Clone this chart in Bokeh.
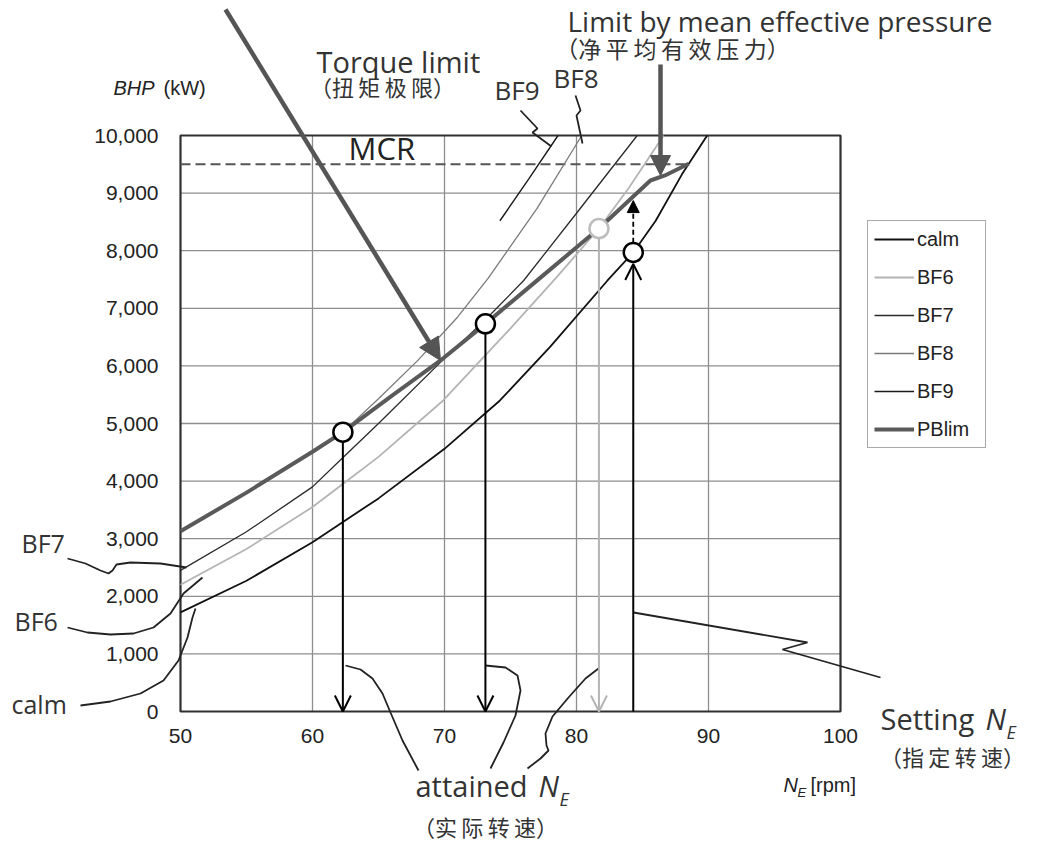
import numpy as np
from bokeh.plotting import figure
from bokeh.models import (Range1d, FixedTicker, NumeralTickFormatter, Arrow, OpenHead,
                          NormalHead, Label, Legend, LegendItem)
from bokeh.embed import file_html
from bokeh.resources import INLINE

# ---------------- data ----------------
x_ticks = [50, 60, 70, 80, 90, 100]
y_ticks = [0, 1000, 2000, 3000, 4000, 5000, 6000, 7000, 8000, 9000, 10000]

calm_ne = [50, 55, 60, 65, 70, 74.2, 78, 82.35, 84.3, 86, 88, 89.9]
calm_bhp = [1720, 2270, 2940, 3700, 4560, 5400, 6330, 7483, 7970, 8520, 9330, 10000]

bf6_ne = [50, 55, 60, 62.3, 65, 69.9, 75, 78.5, 81.7, 84, 86.6]
bf6_bhp = [2200, 2820, 3550, 3950, 4420, 5400, 6650, 7540, 8385, 9100, 10000]

bf7_ne = [50, 55, 60, 62.35, 65, 70, 73.1, 76, 80, 84.6]
bf7_bhp = [2450, 3120, 3900, 4420, 5000, 6130, 6800, 7483, 8650, 10000]

bf8_ne = [62.3, 65, 68, 71, 73.3, 77, 80.4]
bf8_bhp = [4850, 5430, 6100, 6850, 7520, 8730, 10000]

bf9_ne = [74.2, 76.4, 78.6]
bf9_bhp = [8520, 9250, 10000]

pblim_ne = [50, 55, 60, 62.3, 66, 69.7, 73.1, 77, 81.7, 85.6, 86.7, 88.5]
pblim_bhp = [3130, 3800, 4510, 4850, 5480, 6094, 6730, 7480, 8385, 9219, 9306, 9510]

mcr_bhp = 9500
mcr_end_ne = 88.3

attained_ne = [62.3, 73.1, 81.7]
attained_bhp = [4850, 6730, 8385]
attained_color = ["black", "black", "#b4b4b4"]
setting_ne = 84.3
setting_bhp = 7970
setting_target_bhp = 8870

# ---------------- layout mapping ----------------
W, H = 1036, 841
PX_PER_X = 13.2
PX_PER_Y = 0.0576
OX, OY = 180, 711          # canvas position of (50, 0)
X0 = x_ticks[0] - OX / PX_PER_X
X1 = x_ticks[0] + (W - OX) / PX_PER_X
Y1 = OY / PX_PER_Y
Y0 = (OY - H) / PX_PER_Y


def P(px, py):
    """canvas pixel -> data coords (for annotation placement)"""
    return X0 + px * (X1 - X0) / W, Y1 - py * (Y1 - Y0) / H


def PL(pts):
    xs, ys = zip(*[P(a, b) for a, b in pts])
    return list(xs), list(ys)


p = figure(width=W, height=H, output_backend="svg", toolbar_location=None,
           x_range=Range1d(X0, X1), y_range=Range1d(Y0, Y1), min_border=0)
p.outline_line_color = None
p.grid.visible = False
p.background_fill_color = "white"
p.border_fill_color = "white"

for ax in (p.xaxis[0], p.yaxis[0]):
    ax.axis_line_color = None
    ax.major_tick_line_color = None
    ax.minor_tick_line_color = None
    ax.major_tick_in = 0
    ax.major_tick_out = 0
    ax.major_label_text_font = "Liberation Sans"
    ax.major_label_text_font_size = "21px"
    ax.major_label_text_color = "#222222"

p.xaxis.ticker = FixedTicker(ticks=x_ticks)
p.xaxis.fixed_location = y_ticks[0]
p.xaxis.bounds = (x_ticks[0], x_ticks[-1])
p.xaxis.major_label_standoff = 17
p.yaxis.ticker = FixedTicker(ticks=y_ticks)
p.yaxis.fixed_location = x_ticks[0]
p.yaxis.bounds = (y_ticks[0], y_ticks[-1])
p.yaxis.formatter = NumeralTickFormatter(format="0,0")
p.yaxis.major_label_standoff = 22

# grid
gx = x_ticks[1:-1]
p.segment(x0=gx, x1=gx, y0=[y_ticks[0]] * len(gx), y1=[y_ticks[-1]] * len(gx),
          line_color="#8e8e8e", line_width=1.3)
gy = y_ticks[1:-1]
p.segment(x0=[x_ticks[0]] * len(gy), x1=[x_ticks[-1]] * len(gy), y0=gy, y1=gy,
          line_color="#8e8e8e", line_width=1.3)

# plot box
p.quad(left=[x_ticks[0]], right=[x_ticks[-1]], bottom=[y_ticks[0]], top=[y_ticks[-1]],
       fill_color=None, line_color="#303030", line_width=2.2)

# MCR
p.line([x_ticks[0], mcr_end_ne], [mcr_bhp, mcr_bhp], line_color="#555555",
       line_width=2, line_dash="10 5")

# curves
r_calm = p.line(calm_ne, calm_bhp, line_color="#111111", line_width=1.8)
r_bf6 = p.line(bf6_ne, bf6_bhp, line_color="#b4b4b4", line_width=1.8)
r_bf7 = p.line(bf7_ne, bf7_bhp, line_color="#2a2a2a", line_width=1.3)
r_bf8 = p.line(bf8_ne, bf8_bhp, line_color="#7a7a7a", line_width=1.3)
r_bf9 = p.line(bf9_ne, bf9_bhp, line_color="#1a1a1a", line_width=1.4)
r_pb = p.line(pblim_ne, pblim_bhp, line_color="#5a5a5a", line_width=4)

# attained N_E arrows (down)
R_OFF = 170
for xn, yb, c in zip(attained_ne, attained_bhp, attained_color):
    p.add_layout(Arrow(end=OpenHead(size=16, line_color=c, line_width=2),
                       x_start=xn, y_start=yb - R_OFF, x_end=xn, y_end=y_ticks[0],
                       line_color=c, line_width=2))
# setting N_E arrow (up)
p.add_layout(Arrow(end=OpenHead(size=16, line_color="black", line_width=2),
                   x_start=setting_ne, y_start=y_ticks[0], x_end=setting_ne,
                   y_end=setting_bhp - R_OFF - 30, line_color="black", line_width=2))
p.add_layout(Arrow(end=NormalHead(size=12, fill_color="black", line_color="black"),
                   x_start=setting_ne, y_start=setting_bhp + R_OFF, x_end=setting_ne,
                   y_end=setting_target_bhp, line_color="black", line_width=1.8,
                   line_dash="5 3"))

# circles
p.scatter(attained_ne[:2], attained_bhp[:2], size=19, fill_color="white",
          line_color="black", line_width=2.5)
p.scatter([attained_ne[2]], [attained_bhp[2]], size=19, fill_color="white",
          line_color="#bdbdbd", line_width=2.5)
p.scatter([setting_ne], [setting_bhp], size=19, fill_color="white",
          line_color="black", line_width=2.5)

# big annotation arrows
xs, ys = P(225, 9)
xe, ye = P(440, 360)
p.add_layout(Arrow(end=NormalHead(size=22, fill_color="#555555", line_color="#555555"),
                   x_start=xs, y_start=ys, x_end=xe, y_end=ye,
                   line_color="#555555", line_width=4.5))
xs, ys = P(660, 64)
xe, ye = P(660, 175)
p.add_layout(Arrow(end=NormalHead(size=20, fill_color="#555555", line_color="#555555"),
                   x_start=xs, y_start=ys, x_end=xe, y_end=ye,
                   line_color="#555555", line_width=4.5))

# leader lines
leaders = [
    [(67, 558), (85, 563), (100, 570), (108, 573), (112, 570), (116, 564), (130, 562), (160, 563), (186, 567)],
    [(67, 627), (87, 632), (110, 634), (133, 633), (153, 627), (170, 613), (183, 593), (202, 577)],
    [(80, 705), (110, 701), (140, 693), (163, 680), (178, 660), (187, 637), (192, 617), (195, 608)],
    [(520, 110), (537, 128), (532, 132), (551, 146)],
    [(575, 95), (580, 110), (576, 115), (582, 143)],
    [(633, 612), (807, 642), (782, 649), (880, 677)],
    [(345, 665), (360, 669), (372, 678), (382, 693), (390, 712), (402, 740), (418, 770)],
    [(485, 665), (505, 667), (517, 675), (520, 690), (515, 715), (503, 742), (490, 768)],
    [(598, 668), (585, 678), (568, 697), (552, 716), (545, 733), (546, 745), (548, 750), (540, 758), (527, 768)],
]
for pts in leaders:
    lx, ly = PL(pts)
    p.line(lx, ly, line_color="#222222", line_width=1.8)

# texts
SANS = "Open Sans"
CJK = "Noto Sans CJK SC"
TS = "\u2009"


def lab(px, base, text, size, font=SANS, style="normal", align="left",
        color="#333333"):
    """place text so that its baseline lands at page row `base`"""
    x, y = P(px, base - 0.4 * size)
    p.add_layout(Label(x=x, y=y, text=text, text_font=font, text_font_size=f"{size}px",
                       text_font_style=style, text_baseline="alphabetic",
                       text_align=align, text_color=color))


def cjk(cx, cy, chars, size=22):
    """CJK note centred on (cx, cy), letter-spaced like the original"""
    text = "（" + TS.join(chars) + "）"
    x, y = P(cx, cy - 3)
    p.add_layout(Label(x=x, y=y, text=text, text_font=CJK, text_font_size=f"{size}px",
                       text_baseline="middle", text_align="center",
                       text_color="#333333"))


lab(316, 73, "Torque limit", 29)
cjk(382, 88, "扭矩极限")
lab(567, 32, "Limit by mean effective pressure", 28)
cjk(672, 50, "净平均有效压力", 23)
lab(348, 160, "MCR", 31, color="#222222")
lab(494, 100, "BF9", 26)
lab(553, 88, "BF8", 26)
lab(21, 552, "BF7", 25)
lab(14, 630, "BF6", 25)
lab(11, 713, "calm", 25)
lab(415, 797, "attained", 29)
lab(538, 797, "N", 29, style="italic")
lab(559, 806, "E", 18, style="italic")
cjk(485, 828, "实际转速")
lab(880, 730, "Setting", 29)
lab(985, 730, "N", 29, style="italic")
lab(1006, 739, "E", 18, style="italic")
cjk(952, 758, "指定转速")
lab(113, 95, "BHP", 20, font="Liberation Sans", style="italic", color="#222222")
lab(163, 95, "(kW)", 20, font="Liberation Sans", color="#222222")
lab(783, 792, "N", 20, font="Liberation Sans", style="italic", color="#222222")
lab(797, 797, "E", 13, font="Liberation Sans", style="italic", color="#222222")
lab(810, 792, "[rpm]", 20, font="Liberation Sans", color="#222222")

# legend
legend = Legend(items=[
    LegendItem(label="calm", renderers=[r_calm]),
    LegendItem(label="BF6", renderers=[r_bf6]),
    LegendItem(label="BF7", renderers=[r_bf7]),
    LegendItem(label="BF8", renderers=[r_bf8]),
    LegendItem(label="BF9", renderers=[r_bf9]),
    LegendItem(label="PBlim", renderers=[r_pb]),
], location=(867, H - 448))
legend.label_text_font = "Liberation Sans"
legend.label_text_font_size = "20px"
legend.label_text_color = "#222222"
legend.glyph_width = 40
legend.glyph_height = 24
legend.label_height = 24
legend.label_width = 62
legend.label_standoff = 3
legend.spacing = 14
legend.padding = 6
legend.margin = 0
legend.border_line_color = "#555555"
legend.border_line_width = 1.5
legend.background_fill_alpha = 1
p.add_layout(legend)

open("out.html", "w").write(file_html(p, INLINE))
